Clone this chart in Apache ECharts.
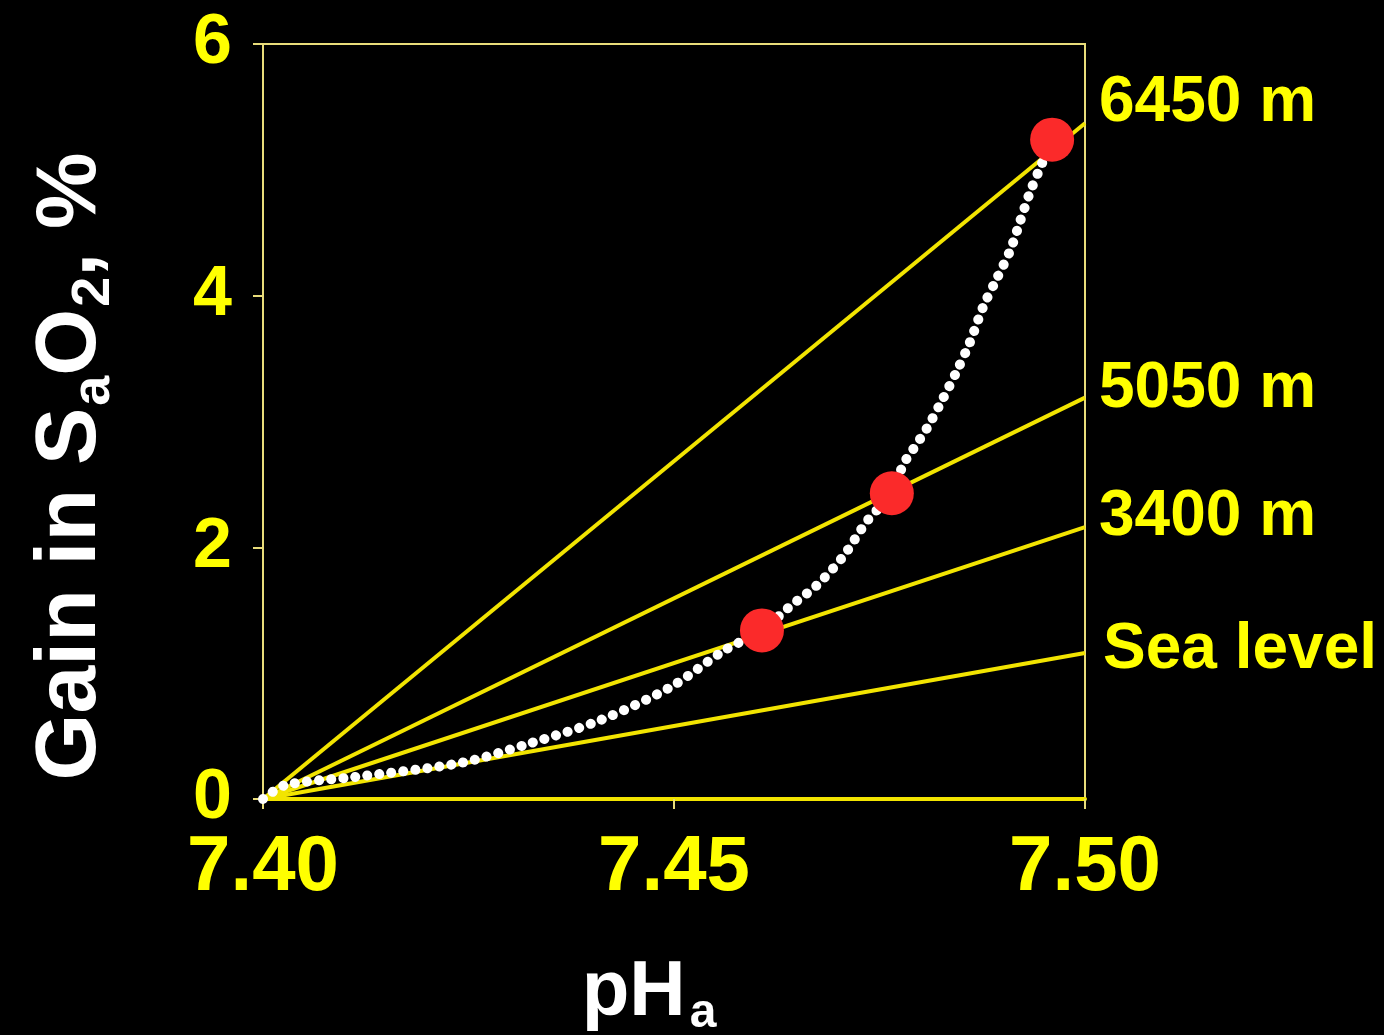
<!DOCTYPE html>
<html>
<head>
<meta charset="utf-8">
<script src="https://cdn.jsdelivr.net/npm/echarts@6/dist/echarts.min.js"></script>
<style>
html,body{margin:0;padding:0;background:#000;}
#c{width:1384px;height:1035px;}
</style>
</head>
<body>
<div id="c"></div>
<script>
// x tick labels / y ticks
const xTicks = [7.40, 7.45, 7.50];
const yTicks = [0, 2, 4, 6];
// altitude lines: gain at pH 7.50 (start at 7.40, 0)
const altitudeNames = ['6450 m', '5050 m', '3400 m', 'Sea level'];
const altitudeEnd = [5.37, 3.19, 2.16, 1.16];
// white dotted curve
const curvePH = [7.400, 7.4027, 7.4112, 7.4240, 7.4326, 7.4411, 7.4496, 7.4561, 7.4607, 7.4641, 7.4674, 7.4706, 7.4735, 7.4765, 7.4779, 7.4791, 7.4808, 7.4827, 7.4844, 7.4860, 7.4876, 7.4893, 7.4909, 7.4921, 7.4933, 7.4945, 7.4960];
const curveGain = [0, 0.11, 0.175, 0.286, 0.445, 0.628, 0.89, 1.18, 1.34, 1.53, 1.70, 1.93, 2.21, 2.43, 2.66, 2.78, 2.95, 3.18, 3.40, 3.63, 3.91, 4.14, 4.36, 4.59, 4.82, 5.01, 5.24];
// red points
const pointPH = [7.4607, 7.4765, 7.4960];
const pointGain = [1.34, 2.43, 5.24];

const FONT = "'Liberation Sans', Arial, sans-serif";
const YEL = '#ffff00';
const LINEYEL = '#f2e400';
const FRAME = '#e8dc7a';

const labelOffsets = [[14, -20], [14, -8], [14, -10], [18, -3]];

const series = [];
altitudeNames.forEach((n, i) => {
  series.push({
    name: n, type: 'line', symbol: 'none', z: 2,
    data: [[7.40, 0], [7.50, altitudeEnd[i]]],
    lineStyle: { color: LINEYEL, width: 4 },
    endLabel: {
      show: true, formatter: n, color: YEL, fontFamily: FONT, fontWeight: 'bold',
      fontSize: 64, offset: labelOffsets[i], distance: 0
    },
    silent: true, animation: false
  });
});
series.push({
  name: 'curve', type: 'line', symbol: 'none', smooth: 0.3, z: 3,
  data: curvePH.map((x, i) => [x, curveGain[i]]),
  lineStyle: { color: '#ffffff', width: 10, type: [0.1, 12], cap: 'round' },
  animation: false
});
series.push({
  name: 'points', type: 'scatter', z: 4, symbolSize: 44,
  data: pointPH.map((x, i) => [x, pointGain[i]]),
  itemStyle: { color: '#fb2a2a', opacity: 1 },
  animation: false
});

const chart = echarts.init(document.getElementById('c'), null, { renderer: 'canvas' });
chart.setOption({
  backgroundColor: '#000',
  animation: false,
  grid: { left: 263, right: 299, top: 44, bottom: 236, containLabel: false, outerBoundsMode: 'none',
    show: true, borderColor: FRAME, borderWidth: 2, backgroundColor: 'transparent' },
  xAxis: {
    type: 'value', min: xTicks[0], max: xTicks[xTicks.length - 1], interval: 0.05,
    axisLine: { show: true, lineStyle: { color: LINEYEL, width: 4 } },
    axisTick: { show: true, length: 10, lineStyle: { color: FRAME, width: 2 } },
    splitLine: { show: false },
    axisLabel: { color: YEL, fontFamily: FONT, fontWeight: 'bold', fontSize: 78, margin: 30,
      formatter: v => v.toFixed(2) },
    name: '{b|pH}{s|a}', nameLocation: 'middle', nameGap: 152,
    nameTextStyle: {
      padding: [0, 50, 0, 0],
      rich: {
        b: { color: '#fff', fontFamily: FONT, fontWeight: 'bold', fontSize: 78, lineHeight: 84 },
        s: { color: '#fff', fontFamily: FONT, fontWeight: 'bold', fontSize: 48, lineHeight: 84, padding: [42, 0, 0, 4] }
      }
    }
  },
  yAxis: {
    type: 'value', min: yTicks[0], max: yTicks[yTicks.length - 1], interval: 2,
    axisLine: { show: true, lineStyle: { color: FRAME, width: 2 } },
    axisTick: { show: true, length: 10, lineStyle: { color: FRAME, width: 2 } },
    splitLine: { show: false },
    axisLabel: { color: YEL, fontFamily: FONT, fontWeight: 'bold', fontSize: 70, margin: 31 },
    name: '{b|Gain in S}{s|a}{b|O}{s|2}{b|, %}', nameLocation: 'middle', nameGap: 146, nameRotate: 90,
    nameTextStyle: {
      padding: [0, 90, 0, 0],
      rich: {
        b: { color: '#fff', fontFamily: FONT, fontWeight: 'bold', fontSize: 86, lineHeight: 92 },
        s: { color: '#fff', fontFamily: FONT, fontWeight: 'bold', fontSize: 54, lineHeight: 92, padding: [46, 0, 0, 2] }
      }
    }
  },
  series: series
});
</script>
</body>
</html>
